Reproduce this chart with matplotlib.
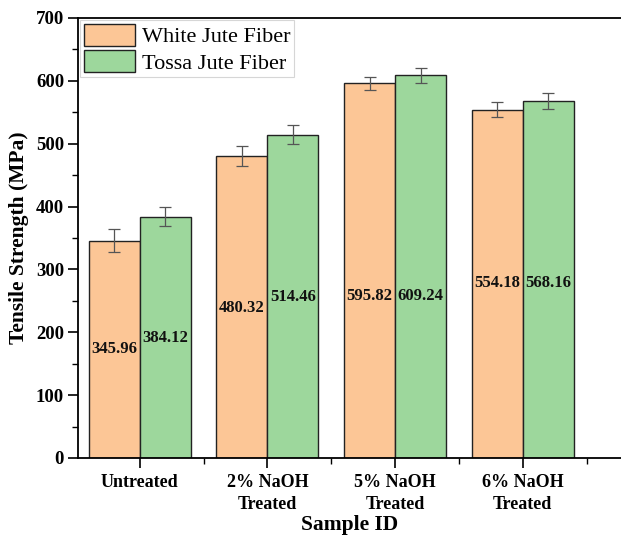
import numpy as np
import matplotlib.pyplot as plt
from matplotlib.ticker import MultipleLocator

plt.rcParams['font.family'] = ['Liberation Serif', 'DejaVu Serif']

# data
samples = ['Untreated', '2% NaOH\nTreated', '5% NaOH\nTreated', '6% NaOH\nTreated']
white = [345.96, 480.32, 595.82, 554.18]
tossa = [384.12, 514.46, 609.24, 568.16]
white_err = [19, 16, 11, 12]
tossa_err = [15, 15, 12, 13]

# label heights inside the bars (as drawn in the original)
white_lbl_y = [173, 238, 257, 278]
tossa_lbl_y = [191, 256, 257, 278]

c_white = '#FCC696'
c_tossa = '#9DD79C'

fig = plt.figure(figsize=(6.21, 5.36), dpi=100)
ax = fig.add_axes([78 / 621, 78 / 536, 543 / 621, 440 / 536])

x = np.arange(1, len(samples) + 1)
w = 0.4
ekw = dict(ecolor='#555555', elinewidth=0.9, capsize=4, capthick=0.9)
ax.bar(x - w / 2, white, w, yerr=white_err, color=c_white, edgecolor='#222222',
       linewidth=1.0, label='White Jute Fiber', error_kw=ekw, zorder=2)
ax.bar(x + w / 2, tossa, w, yerr=tossa_err, color=c_tossa, edgecolor='#222222',
       linewidth=1.0, label='Tossa Jute Fiber', error_kw=ekw, zorder=2)

for xi, v, ly in zip(x - w / 2, white, white_lbl_y):
    ax.text(xi, ly, f'{v:.2f}', ha='center', va='center', fontsize=12,
            fontweight='bold', color='#111111', zorder=3)
for xi, v, ly in zip(x + w / 2, tossa, tossa_lbl_y):
    ax.text(xi, ly, f'{v:.2f}', ha='center', va='center', fontsize=12,
            fontweight='bold', color='#111111', zorder=3)

ax.set_xlim(0.516, 4.77)
ax.set_ylim(0, 700)
ax.set_xticks(x)
ax.set_xticklabels(samples, fontsize=13, fontweight='bold', linespacing=1.4)
ax.xaxis.set_minor_locator(MultipleLocator(1, offset=0.5))
ax.yaxis.set_major_locator(MultipleLocator(100))
ax.yaxis.set_minor_locator(MultipleLocator(50))
for lbl in ax.get_yticklabels():
    lbl.set_fontweight('bold')
    lbl.set_fontsize(13.5)

ax.tick_params(which='major', direction='out', length=7, width=1.2, pad=3)
ax.tick_params(which='minor', direction='out', length=4, width=1.0)
ax.tick_params(axis='x', which='major', pad=4.5)

for s in ['left', 'bottom', 'top']:
    ax.spines[s].set_linewidth(1.3)
ax.spines['right'].set_visible(False)

ax.set_ylabel('Tensile Strength (MPa)', fontsize=15.5, fontweight='bold', labelpad=5)
ax.set_xlabel('Sample ID', fontsize=15.5, fontweight='bold', labelpad=1)

leg = ax.legend(loc='upper left', fontsize=16, frameon=True, fancybox=False,
                handlelength=2.3, handleheight=1.2, borderpad=0.15,
                labelspacing=0.1, handletextpad=0.35, borderaxespad=0.1)
leg.get_frame().set_edgecolor('#cccccc')
leg.get_frame().set_linewidth(0.8)

plt.savefig('out.png', dpi=100)
plt.close()
